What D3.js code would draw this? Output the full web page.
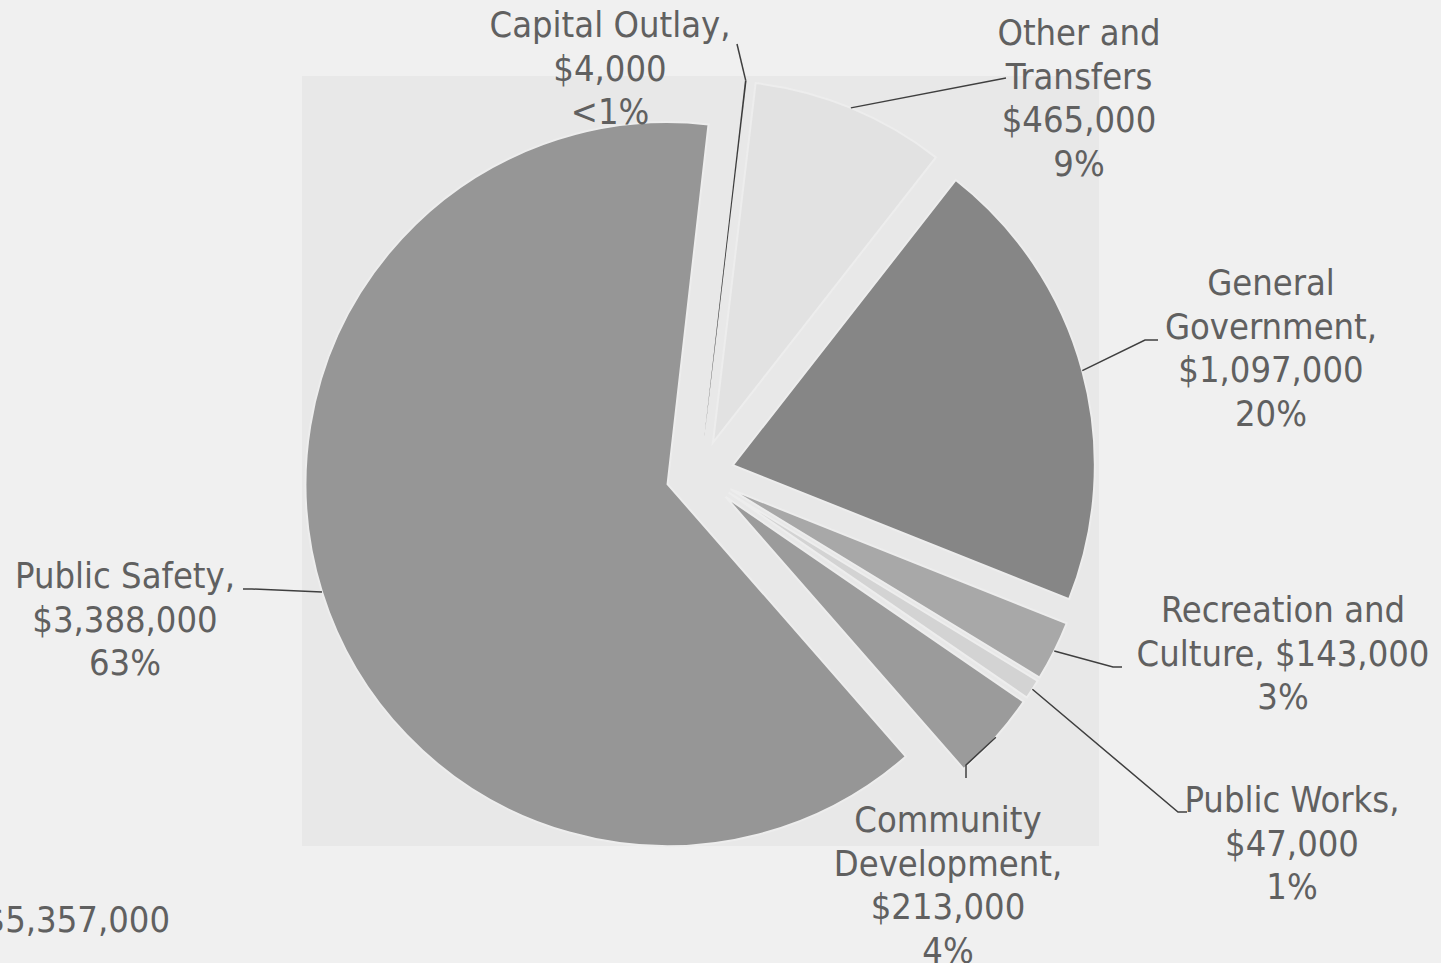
<!DOCTYPE html>
<html>
<head>
<meta charset="utf-8">
<script src="https://cdn.jsdelivr.net/npm/d3@7"></script>
<style>
  html, body { margin: 0; padding: 0; background: #f0f0f0; overflow: hidden; }
  svg { display: block; }
  text { font-family: "DejaVu Sans Condensed", "DejaVu Sans", sans-serif; font-stretch: condensed; fill: #606060; }
</style>
</head>
<body>
<svg id="chart" width="1441" height="963"></svg>
<script>
// data, clockwise from the top of the pie
var categories = ["Capital Outlay", "Other and Transfers", "General Government", "Recreation and Culture", "Public Works", "Community Development", "Public Safety"];
var amounts = [4000, 465000, 1097000, 143000, 47000, 213000, 3388000];
// how each category name wraps in the label
var nameLines = [["Capital Outlay,"], ["Other and", "Transfers"], ["General", "Government,"], ["Recreation and", "Culture,"], ["Public Works,"], ["Community", "Development,"], ["Public Safety,"]];
var amountOnNameLine = [false, false, false, true, false, false, false];

// styling / layout
var fills = ["#3c3c3c", "#e2e2e2", "#868686", "#a8a8a8", "#d3d3d3", "#9b9b9b", "#969696"];
var labelPos = [[610, 37], [1079, 45], [1271, 295], [1283, 622], [1292, 812], [948, 832], [125, 588]];
var leaderBends = [
  [[737, 44]],
  [[1006, 78]],
  [[1145, 340], [1158, 340]],
  [[1113, 667], [1122, 667]],
  [[1178, 812], [1187, 812]],
  [[966, 765], [966, 778]],
  [[252, 589], [243, 589]]
];

var W = 1441, H = 963;
var cx = 700, cy = 474, R = 362, explode = 34;
var start = 6.5 * Math.PI / 180;
var lineH = 43.5;
var fontSize = 36;

var svg = d3.select("#chart");
var money = d3.format("$,.0f");
var total = d3.sum(amounts);
var pct = function(v) {
  var p = v / total;
  return p < 0.005 ? "<1%" : Math.round(p * 100) + "%";
};

var rows = categories.map(function(c, i) { return { name: c, amount: amounts[i], i: i }; });

svg.append("rect").attr("width", W).attr("height", H).attr("fill", "#f0f0f0");
svg.append("rect").attr("x", 302).attr("y", 76).attr("width", 797).attr("height", 770).attr("fill", "#e8e8e8");

var pie = d3.pie().sort(null).value(function(d) { return d.amount; })
  .startAngle(start).endAngle(start + 2 * Math.PI);
var arc = d3.arc().innerRadius(0).outerRadius(R);
var arcs = pie(rows);

var g = svg.append("g").attr("transform", "translate(" + cx + "," + cy + ")");

function mid(a) { return (a.startAngle + a.endAngle) / 2; }

g.selectAll("path.slice").data(arcs).enter().append("path")
  .attr("class", "slice")
  .attr("d", arc)
  .attr("transform", function(a) {
    var m = mid(a);
    return "translate(" + (explode * Math.sin(m)) + "," + (-explode * Math.cos(m)) + ")";
  })
  .attr("fill", function(a) { return fills[a.data.i]; })
  .attr("stroke", function(a) { return a.data.amount / total < 0.005 ? "none" : "#ededed"; })
  .attr("stroke-width", 2)
  .attr("stroke-linejoin", "miter");

// leader lines
var line = d3.line();
svg.selectAll("path.leader").data(arcs).enter().append("path")
  .attr("class", "leader")
  .attr("d", function(a) {
    var m = mid(a), rr = R + explode;
    var pts = [[cx + rr * Math.sin(m), cy - rr * Math.cos(m)]].concat(leaderBends[a.data.i]);
    return line(pts);
  })
  .attr("fill", "none")
  .attr("stroke", "#3f3f3f")
  .attr("stroke-width", 1.5);

// labels
var labels = svg.selectAll("text.lbl").data(rows).enter().append("text")
  .attr("class", "lbl")
  .attr("text-anchor", "middle")
  .attr("font-size", fontSize);

labels.each(function(d) {
  var lines = nameLines[d.i].slice();
  if (amountOnNameLine[d.i]) lines[lines.length - 1] += " " + money(d.amount);
  else lines.push(money(d.amount));
  lines.push(pct(d.amount));
  var t = d3.select(this);
  lines.forEach(function(s, k) {
    t.append("tspan").attr("x", labelPos[d.i][0]).attr("y", labelPos[d.i][1] + k * lineH).text(s);
  });
});

svg.append("text")
  .attr("x", 170).attr("y", 932)
  .attr("text-anchor", "end")
  .attr("font-size", fontSize)
  .text("Total: " + money(total));
</script>
</body>
</html>
